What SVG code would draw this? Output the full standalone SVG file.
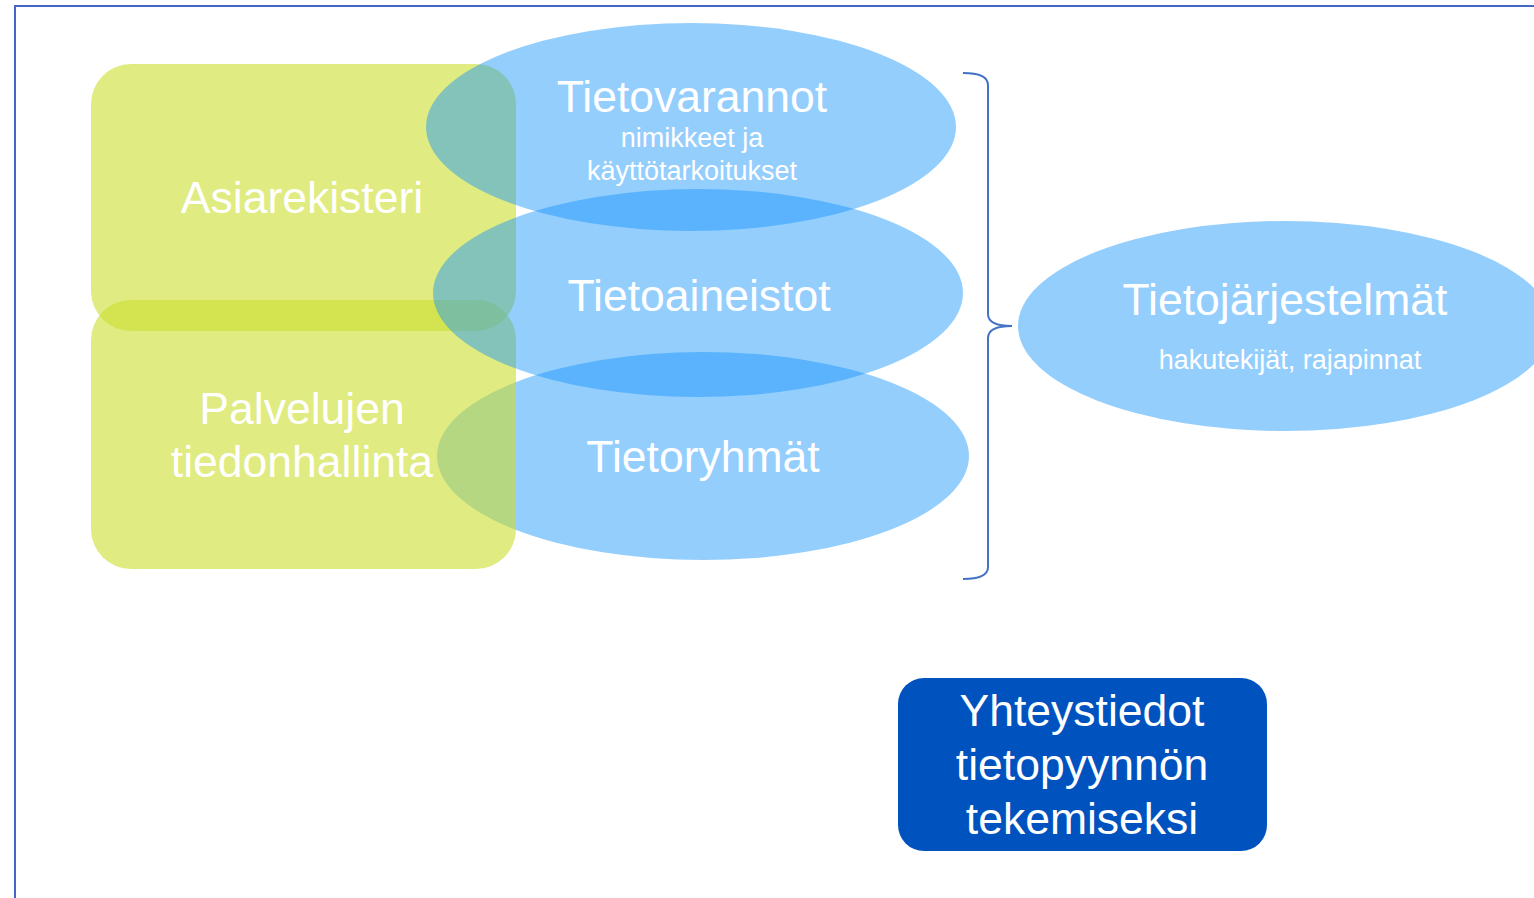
<svg xmlns="http://www.w3.org/2000/svg" width="1534" height="898" viewBox="0 0 1534 898">
<style>
.g{fill:rgb(203,222,47);fill-opacity:0.6}
.b{fill:rgb(21,148,250);fill-opacity:0.46}
.t{font-family:"Liberation Sans",Arial,sans-serif;fill:#fff;text-anchor:middle}
.L{font-size:44.5px}
.s{font-size:27px}
</style>
<rect width="1534" height="898" fill="#fff"/>
<g id="frame"><path d="M15,898 V6 H1534" fill="none" stroke="#4565c8" stroke-width="2"/></g>
<g id="tietoryhmat"><ellipse class="b" cx="703" cy="456" rx="266" ry="104"/></g>
<g id="asiarekisteri"><rect class="g" x="91" y="64" width="425" height="267" rx="40"/></g>
<g id="palvelujen"><rect class="g" x="91" y="300" width="425" height="269" rx="40"/></g>
<g id="tietovarannot"><ellipse class="b" cx="691" cy="127" rx="265" ry="104"/></g>
<g id="tietoaineistot"><ellipse class="b" cx="698" cy="293" rx="265" ry="104"/></g>
<g id="tietojarjestelmat"><ellipse class="b" cx="1285" cy="326" rx="267" ry="105"/></g>
<g id="yhteystiedot"><rect x="898" y="678" width="369" height="173" rx="26" fill="#0052bf"/></g>
<g id="labels">
<text class="t L" x="692" y="112">Tietovarannot</text>
<text class="t s" x="692" y="147">nimikkeet ja</text>
<text class="t s" x="692" y="180">käyttötarkoitukset</text>
<text class="t L" x="302" y="213">Asiarekisteri</text>
<text class="t L" x="699" y="311">Tietoaineistot</text>
<text class="t L" x="302" y="424">Palvelujen</text>
<text class="t L" x="302" y="477">tiedonhallinta</text>
<text class="t L" x="703" y="472">Tietoryhmät</text>
<text class="t L" x="1285" y="315">Tietojärjestelmät</text>
<text class="t s" x="1290" y="369">hakutekijät, rajapinnat</text>
<text class="t L" x="1082" y="726">Yhteystiedot</text>
<text class="t L" x="1082" y="780">tietopyynnön</text>
<text class="t L" x="1082" y="834">tekemiseksi</text>
</g>
<g id="connectors"><path d="M963,73 Q988,73 988,85 L988,314 Q988,326 1012,326 Q988,326 988,338 L988,567 Q988,579 963,579" fill="none" stroke="#4472c4" stroke-width="2"/></g>
</svg>
